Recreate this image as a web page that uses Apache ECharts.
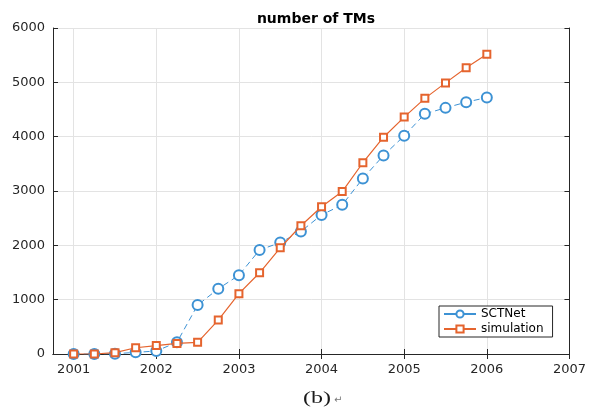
<!DOCTYPE html>
<html>
<head>
<meta charset="utf-8">
<script src="https://cdn.jsdelivr.net/npm/echarts@6/dist/echarts.min.js"></script>
<style>
  html, body { margin: 0; padding: 0; background: #fff; }
  #chart { width: 589px; height: 410px; }
</style>
</head>
<body>
<div id="chart"></div>
<script>
// Quarterly sample times (years)
const quarters = [2001, 2001.25, 2001.5, 2001.75, 2002, 2002.25, 2002.5, 2002.75,
  2003, 2003.25, 2003.5, 2003.75, 2004, 2004.25, 2004.5, 2004.75,
  2005, 2005.25, 2005.5, 2005.75, 2006];
const sctnet = [0, 0, 5, 30, 55, 215, 900, 1200, 1450, 1915, 2050, 2255,
  2560, 2745, 3230, 3655, 4015, 4420, 4530, 4635, 4720];
const simulation = [0, 0, 25, 115, 155, 195, 215, 625, 1110, 1495, 1955, 2360,
  2710, 2990, 3520, 3990, 4360, 4705, 4990, 5270, 5515];
const yearTicks = [2001, 2002, 2003, 2004, 2005, 2006, 2007];
const seriesNames = ['SCTNet', 'simulation'];

const axisColor = '#262626';
const gridColor = '#e3e3e3';
const blue = '#3d92d4';
const orange = '#e5642e';
const font = '"DejaVu Sans", Verdana, sans-serif';

const pairs = vals => quarters.map((q, i) => [q, vals[i]]);

const xBase = {
  type: 'value', min: 2000.75, max: 2007,
  axisLine: { show: true, lineStyle: { color: axisColor, width: 1 } },
  axisTick: { show: true, inside: true, length: 5, customValues: yearTicks,
    lineStyle: { color: axisColor } },
  splitLine: { show: false }
};

const yBase = {
  type: 'value', min: 0, max: 6000, interval: 1000,
  axisLine: { show: true, lineStyle: { color: axisColor } },
  axisTick: { show: true, inside: true, length: 5, lineStyle: { color: axisColor } },
  splitLine: { show: false }
};

const chart = echarts.init(document.getElementById('chart'));
chart.setOption({
  animation: false,
  backgroundColor: '#fff',
  title: {
    text: 'number of TMs', left: 311, top: 7, textAlign: 'center',
    textStyle: { fontFamily: font, fontSize: 14, fontWeight: 'bold', color: '#000' }
  },
  grid: { left: 53, right: 18, top: 28, bottom: 56 },
  xAxis: [
    Object.assign({}, xBase, {
      position: 'bottom',
      axisLabel: { customValues: yearTicks, margin: 9, color: axisColor,
        fontFamily: font, fontSize: 13, formatter: v => String(v) },
      splitLine: { show: true, lineStyle: { color: gridColor, width: 1 } }
    }),
    Object.assign({}, xBase, { position: 'top', axisLabel: { show: false } })
  ],
  yAxis: [
    Object.assign({}, yBase, {
      position: 'left',
      axisLabel: { margin: 8, color: axisColor, fontFamily: font, fontSize: 13,
        formatter: v => String(v) },
      splitLine: { show: true, lineStyle: { color: gridColor, width: 1 } }
    }),
    Object.assign({}, yBase, { position: 'right', axisLabel: { show: false } })
  ],
  legend: {
    orient: 'vertical', left: 439, top: 306,
    data: [
      { name: seriesNames[0], lineStyle: { type: 'solid' } },
      { name: seriesNames[1] }
    ],
    backgroundColor: '#fff',
    borderColor: axisColor, borderWidth: 1,
    padding: [2, 9, 2, 4], itemGap: 3,
    itemWidth: 32, itemHeight: 9,
    textStyle: { fontFamily: font, fontSize: 12, color: '#000' }
  },
  series: [
    {
      name: seriesNames[0], type: 'line', data: pairs(sctnet),
      symbol: 'emptyCircle', symbolSize: 10,
      lineStyle: { color: blue, width: 1, type: [6, 4] },
      itemStyle: { color: blue, borderColor: blue, borderWidth: 1 },
      z: 3
    },
    {
      name: seriesNames[1], type: 'line', data: pairs(simulation),
      symbol: 'emptyRect', symbolSize: 7,
      lineStyle: { color: orange, width: 1.2 },
      itemStyle: { color: orange, borderColor: orange, borderWidth: 1 },
      z: 4
    }
  ],
  graphic: [
    {
      type: 'text', x: 303, y: 391, scaleX: 1.5,
      style: { text: '(b)', font: '16px "Liberation Serif", "Times New Roman", serif', fill: '#1a1a1a' }
    },
    {
      type: 'text', x: 334, y: 395,
      style: { text: '↵', font: '10px "DejaVu Sans", sans-serif', fill: '#777' }
    }
  ]
});
</script>
</body>
</html>
